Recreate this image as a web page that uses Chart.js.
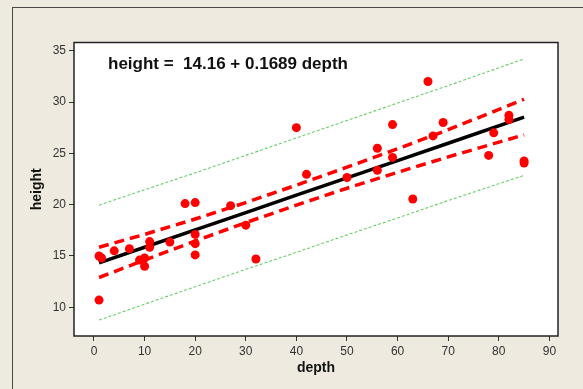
<!DOCTYPE html>
<html>
<head>
  <meta charset="utf-8" />
  <title>height vs depth</title>
  <style>
    html, body { margin: 0; padding: 0; background: #eeeae0; }
  </style>
</head>
<body>
  <canvas id="stage" width="583" height="389"></canvas>

  <script src="https://cdn.jsdelivr.net/npm/chart.js@4.4.0/dist/chart.umd.min.js"></script>
  <script>
    // observed points
    const depth  = [1, 1.5, 1, 4, 7, 9, 10, 10, 11, 11, 15, 18, 20, 20, 20, 20, 27, 30, 32, 40,
                    42, 50, 56, 56, 59, 59, 63, 66, 67, 69, 78, 79, 82, 82, 85, 85];
    const height = [15.0, 14.8, 10.7, 15.5, 15.7, 14.6, 14.8, 14.0, 16.4, 15.85, 16.35, 20.1, 20.2, 17.1, 16.2, 15.1, 19.9, 18.0, 14.7, 27.5,
                    22.95, 22.65, 25.5, 23.35, 27.8, 24.6, 20.55, 32.0, 26.7, 28.0, 24.8, 27.0, 28.7, 28.3, 24.25, 24.05];

    const bandDepth = [1, 10, 20, 30, 40, 50, 60, 70, 85];
    const fitLine   = [14.33, 15.85, 17.54, 19.23, 20.92, 22.61, 24.29, 25.98, 28.52];
    const ciUpper   = [15.85, 17.1, 18.6, 20.2, 21.9, 23.65, 25.45, 27.3, 30.27];
    const ciLower   = [12.9, 14.6, 16.45, 18.25, 19.95, 21.6, 23.15, 24.65, 26.8];
    const piUpper   = [19.95, 21.45, 23.1, 24.8, 26.5, 28.2, 29.9, 31.6, 34.2];
    const piLower   = [8.75, 10.3, 12.0, 13.7, 15.35, 17.05, 18.7, 20.4, 22.85];

    const xTicks = [0, 10, 20, 30, 40, 50, 60, 70, 80, 90];
    const yTicks = [10, 15, 20, 25, 30, 35];
    const equation = 'height =  14.16 + 0.1689 depth';

    const pts = (xs, ys) => xs.map((x, i) => ({ x: x, y: ys[i] }));

    function band(ys, color, width, dash) {
      return {
        data: pts(bandDepth, ys),
        showLine: true,
        borderColor: color,
        borderWidth: width,
        borderDash: dash,
        pointRadius: 0,
        tension: 0
      };
    }

    // beige page, outer frame, white plot box, equation
    const decor = {
      id: 'decor',
      beforeDraw(chart) {
        const { ctx, chartArea: a } = chart;
        ctx.save();
        ctx.fillStyle = '#eeeae0';
        ctx.fillRect(0, 0, chart.width, chart.height);
        ctx.strokeStyle = '#4a4a4a';
        ctx.lineWidth = 1;
        ctx.strokeRect(12.5, 7.5, chart.width + 20, chart.height + 20);
        ctx.fillStyle = '#ffffff';
        ctx.fillRect(a.left, a.top, a.right - a.left, a.bottom - a.top);
        ctx.restore();
      },
      afterDraw(chart) {
        const { ctx, chartArea: a } = chart;
        ctx.save();
        ctx.strokeStyle = '#222';
        ctx.lineWidth = 1.5;
        ctx.strokeRect(a.left, a.top, a.right - a.left, a.bottom - a.top);
        ctx.fillStyle = '#111';
        ctx.font = 'bold 17px "Liberation Sans"';
        ctx.textBaseline = 'alphabetic';
        ctx.fillText(equation, a.left + 34, a.top + 26);
        ctx.restore();
      }
    };

    const tickFont = { family: '"Liberation Sans"', size: 12 };
    const titleFont = { family: '"Liberation Sans"', size: 14, weight: 'bold' };

    new Chart(document.getElementById('stage'), {
      type: 'scatter',
      data: {
        datasets: [
          {
            data: pts(depth, height),
            backgroundColor: '#ff0000',
            borderColor: '#ff0000',
            pointRadius: 4.5,
            pointBorderWidth: 0
          },
          band(fitLine, '#000000', 3.5, []),
          band(ciUpper, '#ff0000', 3.5, [10, 6]),
          band(ciLower, '#ff0000', 3.5, [10, 6]),
          band(piUpper, 'rgb(105,205,105)', 1.1, [3, 2]),
          band(piLower, 'rgb(105,205,105)', 1.1, [3, 2])
        ]
      },
      options: {
        responsive: false,
        devicePixelRatio: 1,
        animation: false,
        layout: { padding: { left: 24.6, right: 25, top: 42.5, bottom: 8.6 } },
        plugins: { legend: { display: false }, tooltip: { enabled: false } },
        scales: {
          x: {
            type: 'linear',
            min: -3.95,
            max: 91.7,
            afterBuildTicks: s => { s.ticks = xTicks.map(v => ({ value: v })); },
            afterFit: s => { s.height = 44.4; },
            grid: { drawOnChartArea: false, tickLength: 5, color: '#333' },
            border: { display: false },
            ticks: { font: tickFont, color: '#333', padding: 3, maxRotation: 0 },
            title: { display: true, text: 'depth', font: titleFont, color: '#111', padding: { top: 0, bottom: 4 } }
          },
          y: {
            type: 'linear',
            min: 7.2,
            max: 35.8,
            afterBuildTicks: s => { s.ticks = yTicks.map(v => ({ value: v })); },
            afterFit: s => { s.width = 49.4; },
            grid: { drawOnChartArea: false, tickLength: 5, color: '#333' },
            border: { display: false },
            ticks: { font: tickFont, color: '#333', padding: 3 },
            title: { display: true, text: 'height', font: titleFont, color: '#111', padding: { top: 4, bottom: 0 } }
          }
        }
      },
      plugins: [decor]
    });
  </script>
</body>
</html>
